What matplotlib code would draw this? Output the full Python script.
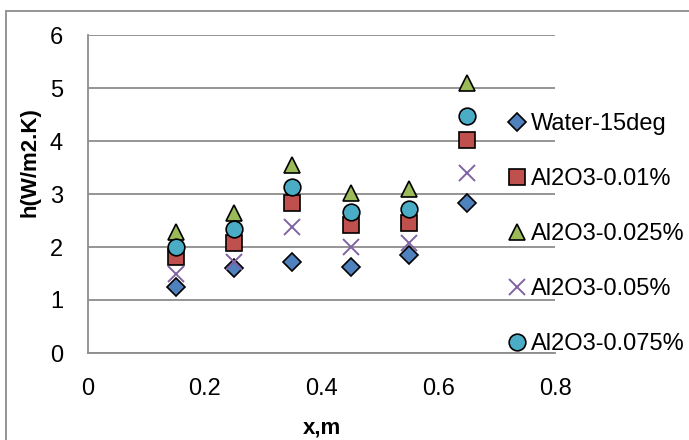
import matplotlib.pyplot as plt
import matplotlib.patches as mpatches

plt.rcParams['font.family'] = ['Liberation Sans', 'DejaVu Sans']

# positions along the tube (m)
x_pos = [0.15, 0.25, 0.35, 0.45, 0.55, 0.65]

# heat transfer coefficient per fluid
h_water = [1.25, 1.60, 1.72, 1.62, 1.85, 2.83]
h_001 = [1.81, 2.07, 2.83, 2.42, 2.45, 4.02]
h_0025 = [2.28, 2.64, 3.55, 3.02, 3.09, 5.09]
h_005 = [1.50, 1.72, 2.38, 2.00, 2.07, 3.40]
h_0075 = [2.00, 2.34, 3.13, 2.66, 2.71, 4.47]

labels = ['Water-15deg', 'Al2O3-0.01%', 'Al2O3-0.025%', 'Al2O3-0.05%', 'Al2O3-0.075%']
series = [h_water, h_001, h_0025, h_005, h_0075]

styles = [
    dict(marker='D', color='#4F81BD', markersize=9.5, markeredgecolor='black', markeredgewidth=1.2),
    dict(marker='s', color='#C0504D', markersize=11, markeredgecolor='black', markeredgewidth=1.2),
    dict(marker='^', color='#9BBB59', markersize=12, markeredgecolor='black', markeredgewidth=1.2),
    dict(marker='x', color='#8064A2', markersize=11, markeredgewidth=1.4),
    dict(marker='o', color='#4BACC6', markersize=12, markeredgecolor='black', markeredgewidth=1.2),
]

fig = plt.figure(figsize=(6.89, 4.40), dpi=100)
ax = fig.add_axes([88 / 689, 1 - 353 / 440, (555 - 88) / 689, (353 - 35) / 440])

for vals, lab, st in zip(series, labels, styles):
    ax.plot(x_pos, vals, linestyle='none', label=lab, zorder=3, **st)

ax.set_xlim(0, 0.8)
ax.set_ylim(0, 6)
ax.set_xticks([0, 0.2, 0.4, 0.6, 0.8])
ax.set_xticklabels(['0', '0.2', '0.4', '0.6', '0.8'])
ax.set_yticks(range(0, 7))
ax.yaxis.grid(True, color='#8c8c8c', linewidth=1.3)
ax.set_axisbelow(True)
ax.tick_params(axis='both', length=0, labelsize=17, colors='black')
ax.tick_params(axis='y', pad=18)
ax.tick_params(axis='x', pad=18)
for side in ['top', 'right']:
    ax.spines[side].set_visible(False)
for side in ['left', 'bottom']:
    ax.spines[side].set_color('#8c8c8c')
    ax.spines[side].set_linewidth(1.3)

fig.text(30 / 689, 1 - 162 / 440, 'h(W/m2.K)', rotation=90, fontsize=16,
         fontweight='bold', ha='center', va='center')
fig.text(322 / 689, 1 - 428 / 440, 'x,m', fontsize=16, fontweight='bold',
         ha='center', va='center')

fig.legend(loc='upper left', bbox_to_anchor=(503 / 689, 1 - 113 / 440),
           frameon=False, fontsize=17, handletextpad=0.0, labelspacing=1.4,
           borderaxespad=0, borderpad=0, handlelength=1.2, numpoints=1)

# chart area outline
fig.patches.append(mpatches.Rectangle((6 / 689, -0.1), 1.2, 1 - 11 / 440 + 0.1,
                                      transform=fig.transFigure, fill=False,
                                      edgecolor='#8c8c8c', linewidth=1.3))

fig.savefig('out.png', dpi=100)
